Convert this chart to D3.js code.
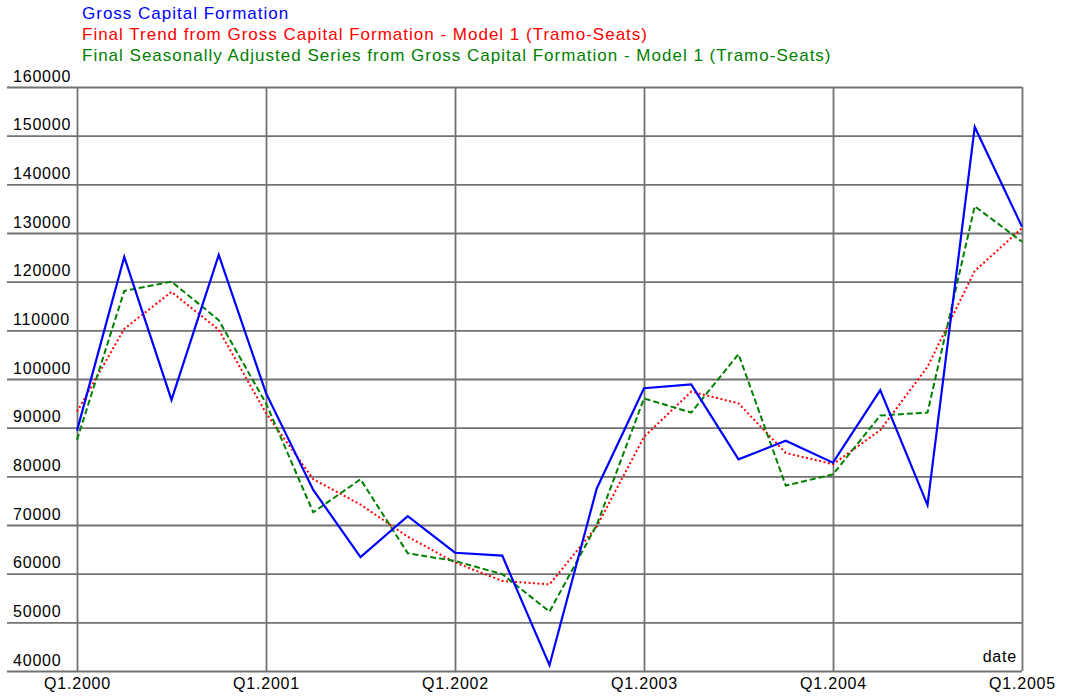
<!DOCTYPE html>
<html>
<head>
<meta charset="utf-8">
<script src="https://cdn.jsdelivr.net/npm/d3@7"></script>
<style>
  html, body { margin: 0; padding: 0; background: #fff; }
  svg { display: block; }
  text { font-family: "Liberation Sans", Arial, sans-serif; }
</style>
</head>
<body>
<svg id="chart" width="1066" height="697"></svg>
<script>
// Quarterly periods, Q1.2000 .. Q1.2005
const quarters = [
  "Q1.2000","Q2.2000","Q3.2000","Q4.2000",
  "Q1.2001","Q2.2001","Q3.2001","Q4.2001",
  "Q1.2002","Q2.2002","Q3.2002","Q4.2002",
  "Q1.2003","Q2.2003","Q3.2003","Q4.2003",
  "Q1.2004","Q2.2004","Q3.2004","Q4.2004",
  "Q1.2005"
];

// Gross Capital Formation (raw series)
const grossCapital = [
  89400, 125100, 95700, 125500,
  97100, 77200, 63400, 71800,
  64300, 63700, 41200, 77500,
  98100, 98900, 83500, 87300,
  82800, 97700, 74100, 151800,
  131300
];

// Final trend (Tramo-Seats, model 1)
const finalTrend = [
  93300, 110300, 117900, 110100,
  93000, 79400, 74200, 67600,
  62300, 58500, 57800, 69700,
  88100, 97400, 95000, 84800,
  82500, 89500, 102500, 122200,
  131000
];

// Final seasonally adjusted series (Tramo-Seats, model 1)
const seasAdjusted = [
  87500, 118100, 120000, 112100,
  95000, 72600, 79400, 64200,
  62600, 59900, 52200, 70000,
  96000, 93100, 105100, 78100,
  80400, 92500, 93100, 135500,
  128200
];

// Axis ticks
const yTicks = [40000, 50000, 60000, 70000, 80000, 90000, 100000,
                110000, 120000, 130000, 140000, 150000, 160000];
const xTickIdx = [0, 4, 8, 12, 16, 20];

const legendLabels = [
  "Gross Capital Formation",
  "Final Trend from Gross Capital Formation - Model 1 (Tramo-Seats)",
  "Final Seasonally Adjusted Series from Gross Capital Formation - Model 1 (Tramo-Seats)"
];

const svg = d3.select("#chart");

const plotLeft = 77, plotRight = 1022, plotTop = 87, plotBottom = 671, gridLeft = 7;

const x = d3.scaleLinear().domain([0, quarters.length - 1]).range([plotLeft, plotRight]);
const y = d3.scaleLinear().domain([40000, 160000]).range([plotBottom, plotTop]);

const gridColor = "#727272";
const fontSize = 16;
const fontFamily = '"Liberation Sans", Arial, sans-serif';

// Horizontal grid + y labels
const yAxis = svg.append("g")
  .attr("transform", `translate(${plotRight},0)`)
  .call(d3.axisLeft(y).tickValues(yTicks).tickSize(plotRight - gridLeft).tickFormat(d3.format("d")));
yAxis.select(".domain").remove();
yAxis.selectAll(".tick line").attr("stroke", gridColor).attr("stroke-width", 1.8);
yAxis.selectAll(".tick text")
  .attr("x", -(plotRight - gridLeft) + 6)
  .attr("dy", null)
  .attr("y", -6)
  .attr("text-anchor", "start")
  .attr("fill", "#000")
  .style("font-size", fontSize + "px")
  .style("letter-spacing", "0.8px")
  .style("font-family", fontFamily);

// Vertical grid + x labels
const xAxis = svg.append("g")
  .attr("transform", `translate(0,${plotBottom})`)
  .call(d3.axisBottom(x).tickValues(xTickIdx).tickSize(-(plotBottom - plotTop)).tickFormat(i => quarters[i]));
xAxis.select(".domain").remove();
xAxis.selectAll(".tick line").attr("stroke", gridColor).attr("stroke-width", 1.8);
xAxis.selectAll(".tick text")
  .attr("y", 18)
  .attr("dy", null)
  .attr("fill", "#000")
  .style("font-size", fontSize + "px")
  .style("letter-spacing", "0.8px")
  .style("font-family", fontFamily);

// Axis title
svg.append("text")
  .attr("x", 1017).attr("y", 662)
  .attr("text-anchor", "end")
  .style("font-size", fontSize + "px")
  .style("letter-spacing", "0.8px")
  .text("date");

// Series lines
const line = d3.line().x((d, i) => x(i)).y(d => y(d));

svg.append("path").datum(finalTrend)
  .attr("d", line).attr("fill", "none")
  .attr("stroke", "#ff0000").attr("stroke-width", 2)
  .attr("stroke-dasharray", "2,2.5");

svg.append("path").datum(seasAdjusted)
  .attr("d", line).attr("fill", "none")
  .attr("stroke", "#008000").attr("stroke-width", 2)
  .attr("stroke-dasharray", "6,3");

svg.append("path").datum(grossCapital)
  .attr("d", line).attr("fill", "none")
  .attr("stroke", "#0000ff").attr("stroke-width", 2.2)
  .attr("stroke-linejoin", "miter");

// Legend text
const legendColors = ["#0000ff", "#ff0000", "#008000"];
svg.selectAll("text.legend")
  .data(legendLabels)
  .join("text")
  .attr("class", "legend")
  .attr("x", 82)
  .attr("y", (d, i) => 19 + i * 21)
  .attr("fill", (d, i) => legendColors[i])
  .style("font-size", "17px")
  .style("letter-spacing", "1px")
  .text(d => d);
</script>
</body>
</html>
